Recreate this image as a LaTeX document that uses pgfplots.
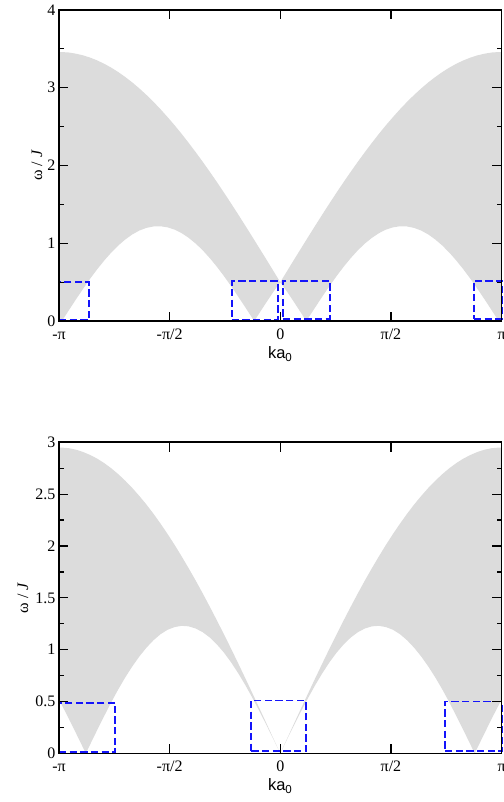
\documentclass[border=0pt]{standalone}
\usepackage{fontspec}
\setmainfont{Liberation Serif}
\newfontfamily\labelsans{Liberation Sans}
\usepackage{pgfplots}
\pgfplotsset{compat=1.18}

\definecolor{bandgray}{RGB}{220,220,220}
\definecolor{boxblue}{RGB}{20,20,250}

\pgfplotsset{
  % geometry shared by the data layer and the frame drawn over it
  panel/.style={
    scale only axis, width=332.25pt, height=233.5pt,
    xmin=-3.14159, xmax=3.14159, ymin=0,
  },
  frameaxis/.style={
    panel,
    xtick={-3.14159,-1.5708,0,1.5708,3.14159},
    xticklabels={-π,-π/2,0,π/2,π},
    axis line style={black, line width=1.3pt},
    every tick/.style={black, line width=0.9pt},
    major tick length=7pt, minor tick length=3.75pt,
    tick align=inside, tick pos=both,
    /pgf/number format/assume math mode=true,
    ticklabel style={font=\fontsize{12}{13}\selectfont},
    xticklabel style={anchor=base, yshift=-13.5pt},
    yticklabel style={anchor=east, inner sep=0pt, xshift=-2.5pt},
    xlabel={ka\textsubscript{0}},
    every axis x label/.style={at={(axis description cs:0.5,-0.106)}, anchor=center,
      font=\labelsans\fontsize{12.4}{14}\selectfont},
    ylabel={ω / \textit{J}},
  },
  ylabelat/.style={
    every axis y label/.style={at={(axis description cs:#1,0.5)}, rotate=90,
      anchor=center, font=\fontsize{12}{14}\selectfont}},
  band/.style={fill=bandgray, draw=none},
  zoombox/.style={draw=boxblue, mark=none, line width=1.45pt,
    dash pattern=on 5.5pt off 2.5pt},
}

\begin{document}
\begin{tikzpicture}
% upper panel: continuum for the first parameter set
\begin{axis}[panel, name=top, ymax=4, hide axis, clip=false]
\addplot[band] coordinates {
 (-3.1416,3.460) (-3.1,3.459) (-3.0,3.453) (-2.9,3.438) (-2.8,3.417)
 (-2.7,3.388) (-2.6,3.352) (-2.5,3.309) (-2.4,3.259) (-2.3,3.202)
 (-2.2,3.138) (-2.1,3.068) (-2.0,2.991) (-1.9,2.908) (-1.8,2.819)
 (-1.7,2.724) (-1.6,2.623) (-1.5,2.518) (-1.4,2.407) (-1.3,2.291)
 (-1.2,2.171) (-1.1,2.047) (-1.0,1.919) (-0.9,1.788) (-0.8,1.653)
 (-0.7,1.515) (-0.6,1.375) (-0.5,1.232) (-0.4,1.088) (-0.3,0.942)
 (-0.2,0.796) (-0.1,0.648) (0,0.5)
 (0.1,0.648) (0.2,0.796) (0.3,0.942) (0.4,1.088) (0.5,1.232)
 (0.6,1.375) (0.7,1.515) (0.8,1.653) (0.9,1.788) (1.0,1.919)
 (1.1,2.047) (1.2,2.171) (1.3,2.291) (1.4,2.407) (1.5,2.518)
 (1.6,2.623) (1.7,2.724) (1.8,2.819) (1.9,2.908) (2.0,2.991)
 (2.1,3.068) (2.2,3.138) (2.3,3.202) (2.4,3.259) (2.5,3.309)
 (2.6,3.352) (2.7,3.388) (2.8,3.417) (2.9,3.438) (3.0,3.453)
 (3.1,3.459) (3.1416,3.460)
 (3.1416,0.060) (3.1,0) (3.0,0.140) (2.9,0.279) (2.8,0.413) (2.7,0.543)
 (2.6,0.664) (2.5,0.777) (2.4,0.880) (2.3,0.971) (2.2,1.049) (2.1,1.114)
 (2.0,1.164) (1.9,1.198) (1.8,1.216) (1.7,1.219) (1.6,1.205) (1.5,1.176)
 (1.4,1.130) (1.3,1.070) (1.2,0.996) (1.1,0.909) (1.0,0.809) (0.9,0.699)
 (0.8,0.579) (0.7,0.452) (0.6,0.319) (0.5,0.182) (0.4,0.042) (0.37,0)
 (0.3,0.098) (0.2,0.237) (0.1,0.373) (0,0.5)
 (-0.1,0.373) (-0.2,0.237) (-0.3,0.098) (-0.37,0) (-0.4,0.042)
 (-0.5,0.182) (-0.6,0.319) (-0.7,0.452) (-0.8,0.579) (-0.9,0.699)
 (-1.0,0.809) (-1.1,0.909) (-1.2,0.996) (-1.3,1.070) (-1.4,1.130)
 (-1.5,1.176) (-1.6,1.205) (-1.7,1.219) (-1.8,1.216) (-1.9,1.198)
 (-2.0,1.164) (-2.1,1.114) (-2.2,1.049) (-2.3,0.971) (-2.4,0.880)
 (-2.5,0.777) (-2.6,0.664) (-2.7,0.543) (-2.8,0.413) (-2.9,0.279)
 (-3.0,0.140) (-3.1,0) (-3.1416,0.060)
} -- cycle;
\addplot[zoombox] coordinates {(-3.1416,0.012) (-2.72,0.012) (-2.72,0.505) (-3.1416,0.505) (-3.1416,0.012)};
\addplot[zoombox] coordinates {(-0.69,0.02) (-0.03,0.02) (-0.03,0.51) (-0.69,0.51) (-0.69,0.02)};
\addplot[zoombox] coordinates {(0.04,0.03) (0.70,0.03) (0.70,0.52) (0.04,0.52) (0.04,0.03)};
\addplot[zoombox] coordinates {(2.75,0.03) (3.1416,0.03) (3.1416,0.52) (2.75,0.52) (2.75,0.03)};
\coordinate (frameTL) at (rel axis cs:0,1);
\end{axis}
% frame, ticks and labels of the upper panel
\begin{axis}[frameaxis, at={(top.south west)}, anchor=south west,
  ymax=4, ylabelat=-0.0497,
  ytick={0,1,2,3,4}, minor ytick={0.5,1.5,2.5,3.5}]
\end{axis}

% lower panel: continuum for the second parameter set
\begin{axis}[panel, name=bot, ymax=3, hide axis, clip=false,
  at={(top.south west)}, anchor=north west, yshift=-91pt]
\addplot[band] coordinates {
 (-3.1416,2.950) (-3.1,2.949) (-3.0,2.943) (-2.9,2.929) (-2.8,2.907)
 (-2.7,2.878) (-2.6,2.843) (-2.5,2.800) (-2.4,2.750) (-2.3,2.693)
 (-2.2,2.629) (-2.1,2.559) (-2.0,2.482) (-1.9,2.400) (-1.8,2.311)
 (-1.7,2.216) (-1.6,2.116) (-1.5,2.011) (-1.4,1.900) (-1.3,1.785)
 (-1.2,1.666) (-1.1,1.542) (-1.0,1.414) (-0.9,1.283) (-0.8,1.149)
 (-0.7,1.012) (-0.6,0.872) (-0.5,0.730) (-0.4,0.586) (-0.3,0.441)
 (-0.2,0.295) (-0.1,0.147) (0,0)
 (0.1,0.147) (0.2,0.295) (0.3,0.441) (0.4,0.586) (0.5,0.730)
 (0.6,0.872) (0.7,1.012) (0.8,1.149) (0.9,1.283) (1.0,1.414)
 (1.1,1.542) (1.2,1.666) (1.3,1.785) (1.4,1.900) (1.5,2.011)
 (1.6,2.116) (1.7,2.216) (1.8,2.311) (1.9,2.400) (2.0,2.482)
 (2.1,2.559) (2.2,2.629) (2.3,2.693) (2.4,2.750) (2.5,2.800)
 (2.6,2.843) (2.7,2.878) (2.8,2.907) (2.9,2.929) (3.0,2.943)
 (3.1,2.949) (3.1416,2.950)
 (3.1416,0.517) (3.1,0.465) (3.0,0.333) (2.9,0.195) (2.8,0.056) (2.76,0)
 (2.7,0.084) (2.6,0.223) (2.5,0.359) (2.4,0.492) (2.3,0.617) (2.2,0.733)
 (2.1,0.839) (2.0,0.935) (1.9,1.019) (1.8,1.091) (1.7,1.149) (1.6,1.192)
 (1.5,1.218) (1.4,1.230) (1.3,1.225) (1.2,1.204) (1.1,1.168) (1.0,1.117)
 (0.9,1.051) (0.8,0.972) (0.7,0.880) (0.6,0.776) (0.5,0.663) (0.4,0.541)
 (0.3,0.412) (0.2,0.278) (0.1,0.140) (0,0)
 (-0.1,0.140) (-0.2,0.278) (-0.3,0.412) (-0.4,0.541) (-0.5,0.663)
 (-0.6,0.776) (-0.7,0.880) (-0.8,0.972) (-0.9,1.051) (-1.0,1.117)
 (-1.1,1.168) (-1.2,1.204) (-1.3,1.225) (-1.4,1.230) (-1.5,1.218)
 (-1.6,1.192) (-1.7,1.149) (-1.8,1.091) (-1.9,1.019) (-2.0,0.935)
 (-2.1,0.839) (-2.2,0.733) (-2.3,0.617) (-2.4,0.492) (-2.5,0.359)
 (-2.6,0.223) (-2.7,0.084) (-2.76,0) (-2.8,0.056) (-2.9,0.195)
 (-3.0,0.333) (-3.1,0.465) (-3.1416,0.517)
} -- cycle;
\addplot[zoombox] coordinates {(-3.1416,0.01) (-2.34,0.01) (-2.34,0.49) (-3.1416,0.49) (-3.1416,0.01)};
\addplot[zoombox] coordinates {(-0.41,0.02) (0.36,0.02) (0.36,0.51) (-0.41,0.51) (-0.41,0.02)};
\addplot[zoombox] coordinates {(2.34,0.02) (3.1416,0.02) (3.1416,0.50) (2.34,0.50) (2.34,0.02)};
\coordinate (frameBR) at (rel axis cs:1,0);
\end{axis}
% frame, ticks and labels of the lower panel
\begin{axis}[frameaxis, at={(bot.south west)}, anchor=south west,
  ymax=3, ylabelat=-0.0813,
  ytick={0,0.5,1,1.5,2,2.5,3},
  minor ytick={0.25,0.75,1.25,1.75,2.25,2.75}]
\end{axis}

\pgfresetboundingbox
\path[use as bounding box] ([xshift=-44.25pt,yshift=7.5pt]frameTL)
  rectangle ([xshift=1.5pt,yshift=-36.5pt]frameBR);
\end{tikzpicture}
\end{document}
